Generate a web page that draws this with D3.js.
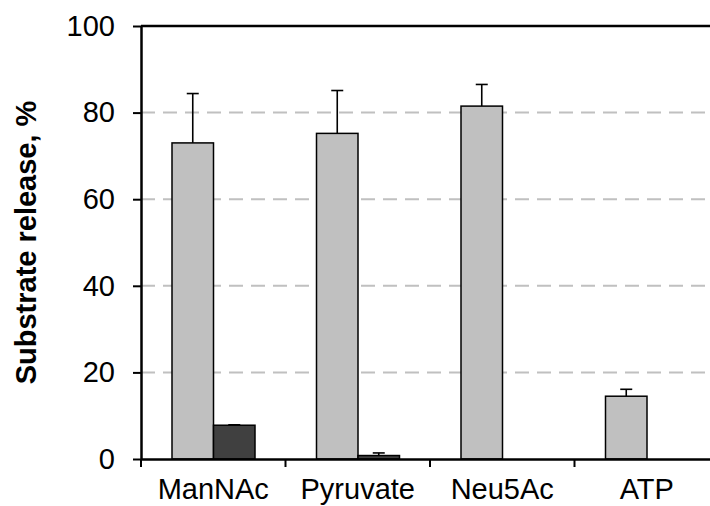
<!DOCTYPE html>
<html>
<head>
<meta charset="utf-8">
<script src="https://cdn.jsdelivr.net/npm/d3@7"></script>
<style>
  body { margin: 0; background: #fff; }
  svg { display: block; font-family: "Liberation Sans", Arial, sans-serif; }
</style>
</head>
<body>
<svg id="chart" width="710" height="506"></svg>
<script>
  // values
  const categories = ["ManNAc", "Pyruvate", "Neu5Ac", "ATP"];
  const lightValues = [73.0, 75.2, 81.5, 14.5];
  const lightErrors = [11.4, 9.9, 5.0, 1.6];
  const darkValues = [7.8, 0.8, 0, 0];
  const darkErrors = [0.1, 0.6, 0, 0];
  const yTicks = [0, 20, 40, 60, 80, 100];

  const margin = { top: 26, left: 141, bottom: 47 };
  const svg = d3.select("#chart");
  const height = +svg.attr("height");
  const bandW = 144.5;
  const fontSize = 29;

  const x = d3.scaleBand()
    .domain(categories)
    .range([margin.left, margin.left + bandW * categories.length])
    .padding(0);
  const sub = d3.scaleBand()
    .domain(["light", "dark"])
    .range([31, 114]);
  const y = d3.scaleLinear()
    .domain([0, 100])
    .range([height - margin.bottom, margin.top]);

  const right = x.range()[1];

  // dashed grid lines
  svg.append("g")
    .selectAll("line")
    .data(yTicks.filter(d => d > 0 && d < 100))
    .join("line")
    .attr("x1", margin.left).attr("x2", right)
    .attr("y1", d => y(d)).attr("y2", d => y(d))
    .attr("stroke", "#c0c0c0")
    .attr("stroke-width", 2)
    .attr("stroke-dasharray", "14,8");

  // top border of the plot
  svg.append("line")
    .attr("x1", margin.left).attr("x2", right)
    .attr("y1", y(100)).attr("y2", y(100))
    .attr("stroke", "#000").attr("stroke-width", 2.5);

  const rows = categories.map((c, i) => [
    { cat: c, key: "light", v: lightValues[i], e: lightErrors[i], fill: "#c0c0c0" },
    { cat: c, key: "dark", v: darkValues[i], e: darkErrors[i], fill: "#404040" }
  ]).flat().filter(d => d.v > 0);

  // error bars (upper only)
  const err = svg.append("g").selectAll("g").data(rows).join("g")
    .attr("stroke", "#000").attr("stroke-width", 1.6);
  err.append("line")
    .attr("x1", d => x(d.cat) + sub(d.key) + sub.bandwidth() / 2)
    .attr("x2", d => x(d.cat) + sub(d.key) + sub.bandwidth() / 2)
    .attr("y1", d => y(d.v))
    .attr("y2", d => y(d.v + d.e));
  err.append("line")
    .attr("x1", d => x(d.cat) + sub(d.key) + sub.bandwidth() / 2 - 6)
    .attr("x2", d => x(d.cat) + sub(d.key) + sub.bandwidth() / 2 + 6)
    .attr("y1", d => y(d.v + d.e))
    .attr("y2", d => y(d.v + d.e));

  // bars
  svg.append("g").selectAll("rect").data(rows).join("rect")
    .attr("x", d => x(d.cat) + sub(d.key))
    .attr("width", sub.bandwidth())
    .attr("y", d => y(d.v))
    .attr("height", d => y(0) - y(d.v))
    .attr("fill", d => d.fill)
    .attr("stroke", "#000")
    .attr("stroke-width", 1.5);

  // y axis
  const yAxis = svg.append("g")
    .attr("transform", `translate(${margin.left},0)`)
    .call(d3.axisLeft(y).tickValues(yTicks).tickSize(8).tickPadding(18).tickSizeOuter(0));
  yAxis.select(".domain").attr("stroke-width", 2.5);
  yAxis.selectAll(".tick line").attr("stroke-width", 2);
  yAxis.selectAll("text").attr("font-size", fontSize).attr("font-family", "Liberation Sans, Arial, sans-serif").attr("fill", "#000");

  // x axis
  const xAxis = svg.append("g")
    .attr("transform", `translate(0,${y(0)})`)
    .call(d3.axisBottom(x).tickSize(0));
  xAxis.select(".domain").attr("stroke-width", 2.5);
  xAxis.selectAll("text")
    .attr("y", 40).attr("dy", 0)
    .attr("font-size", fontSize).attr("font-family", "Liberation Sans, Arial, sans-serif").attr("fill", "#000");
  // category separators
  xAxis.append("g").selectAll("line")
    .data(categories.concat(["end"]))
    .join("line")
    .attr("x1", (d, i) => margin.left + bandW * i)
    .attr("x2", (d, i) => margin.left + bandW * i)
    .attr("y1", 0).attr("y2", 8)
    .attr("stroke", "#000").attr("stroke-width", 2);

  // axis title
  svg.append("text")
    .attr("transform", `translate(36,${(y(0) + y(100)) / 2}) rotate(-90)`)
    .attr("text-anchor", "middle")
    .attr("font-size", fontSize)
    .attr("font-weight", "bold")
    .text("Substrate release, %");
</script>
</body>
</html>
